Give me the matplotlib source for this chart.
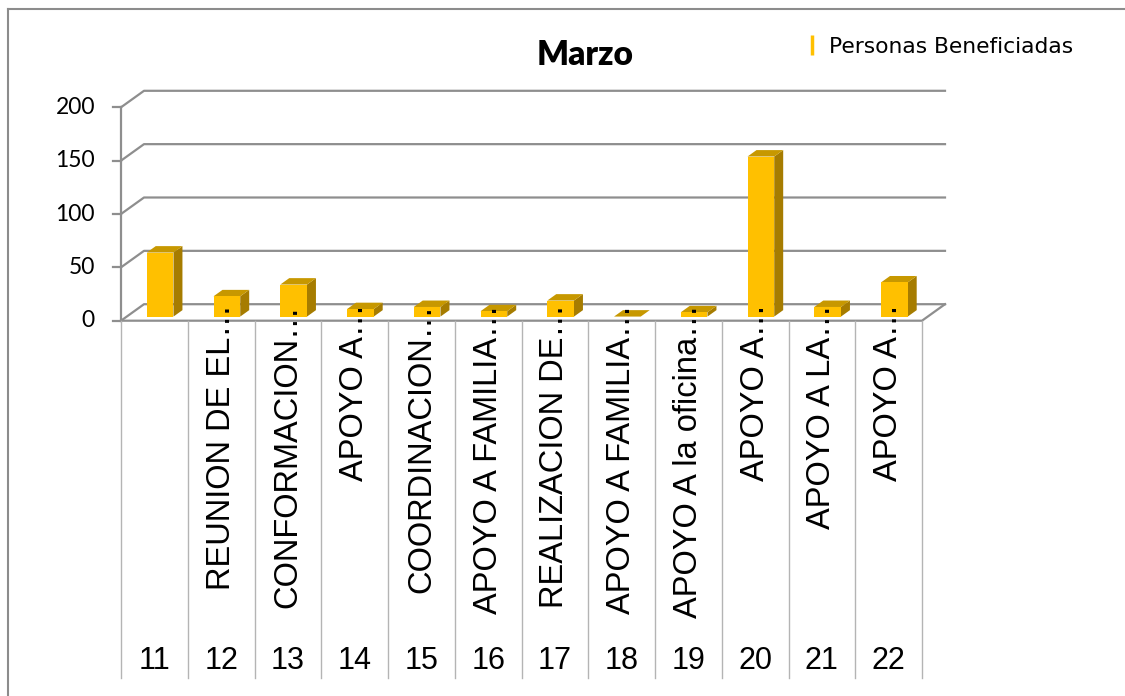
import matplotlib
matplotlib.use("Agg")
import matplotlib.pyplot as plt
from matplotlib.lines import Line2D
from matplotlib.collections import PolyCollection

# datos del mes
dias = ["11", "12", "13", "14", "15", "16", "17", "18", "19", "20", "21", "22"]
actividades = ["", "REUNION DE EL\u2026", "CONFORMACION\u2026", "APOYO A\u2026",
               "COORDINACION\u2026", "APOYO A FAMILIA\u2026", "REALIZACION DE\u2026",
               "APOYO A FAMILIA\u2026", "APOYO A la oficina\u2026", "APOYO A\u2026",
               "APOYO A LA\u2026", "APOYO A\u2026"]
beneficiados = [60, 19, 30, 7, 9, 5, 15, 0, 4, 150, 9, 32]
y_ticks = [0, 50, 100, 150, 200]

W, H = 1125, 696
fig = plt.figure(figsize=(W / 100, H / 100), dpi=100)
ax = fig.add_axes([0, 0, 1, 1])

# escala: pixeles por categoria y por unidad
px_x, x0 = 66.75, 121
px_v, y0 = 1.067, 320.7
ax.set_xlim(-x0 / px_x, (W - x0) / px_x)
ax.set_ylim((y0 - H) / px_v, y0 / px_v)
ax.axis("off")

# profundidad de la vista 3D
ddx = 23 / px_x
ddy = 16.5 / px_v
n = len(dias)
grid_c = "#8e8e8e"

# paredes y piso
for v in y_ticks:
    ax.plot([0, ddx, n + ddx], [v, v + ddy, v + ddy], color=grid_c, lw=1.6, zorder=1)
    ax.plot([-8 / px_x, 0], [v, v], color=grid_c, lw=1.6, zorder=1)
ax.plot([0, 0], [0, y_ticks[-1]], color=grid_c, lw=1.6, zorder=1)
ax.plot([0, n, n + ddx], [0, 0, ddy], color=grid_c, lw=1.6, zorder=1)

# tabla de categorias bajo el piso
v_bottom = (y0 - 678) / px_v
for k in range(n + 1):
    ax.plot([k, k], [0, v_bottom], color="#b4b4b4", lw=1, zorder=1)

# columnas
f0, f1 = 0.25, 0.64
bw = 0.4
xs = [k + 0.5 + f0 * ddx for k in range(n)]
base = f0 * ddy
sx, sy = (f1 - f0) * ddx, (f1 - f0) * ddy
sides, tops = [], []
for x, v in zip(xs, beneficiados):
    xl, xr, yt = x - bw / 2, x + bw / 2, base + v
    sides.append([(xr, base), (xr, yt), (xr + sx, yt + sy), (xr + sx, base + sy)])
    tops.append([(xl, yt), (xr, yt), (xr + sx, yt + sy), (xl + sx, yt + sy)])
ax.add_collection(PolyCollection(sides, facecolors="#A67C00", edgecolors="none", zorder=2))
ax.add_collection(PolyCollection(tops, facecolors="#C79800", edgecolors="none", zorder=2))
ax.bar(xs, beneficiados, width=bw, bottom=base, color="#FFC000", zorder=3)

# etiquetas
for v in y_ticks:
    ax.text(-26 / px_x, v, str(v), ha="right", va="center", fontsize=16.5,
            family="Lato", color="black")
for k, (d, a) in enumerate(zip(dias, actividades)):
    ax.text(k + 0.5, (y0 - 304) / px_v, a, rotation=90, ha="center", va="top",
            fontsize=23.5, family="Liberation Sans", zorder=5)
    ax.text(k + 0.5, (y0 - 661) / px_v, d, ha="center", va="center",
            fontsize=22, family="Liberation Sans", zorder=5)

fig.text(585 / W, 1 - 55 / H, "Marzo", ha="center", va="center", fontsize=24,
         fontweight="heavy", family="Lato")

handle = Line2D([], [], color="#FFC000", marker="|", linestyle="None",
                markersize=15, markeredgewidth=2.5)
fig.legend([handle], ["Personas Beneficiadas"], loc="center left",
           bbox_to_anchor=(805 / W, 1 - 47 / H), frameon=False,
           handlelength=0.6, handletextpad=0.5, borderpad=0, borderaxespad=0,
           prop={"family": "DejaVu Sans", "size": 15.7})

# marco del grafico
fig.add_artist(Line2D([8 / W, 1], [1 - 9 / H, 1 - 9 / H], color="#8c8c8c", lw=1.5))
fig.add_artist(Line2D([8 / W, 8 / W], [0, 1 - 9 / H], color="#8c8c8c", lw=1.5))

fig.savefig("out.png", dpi=100)
